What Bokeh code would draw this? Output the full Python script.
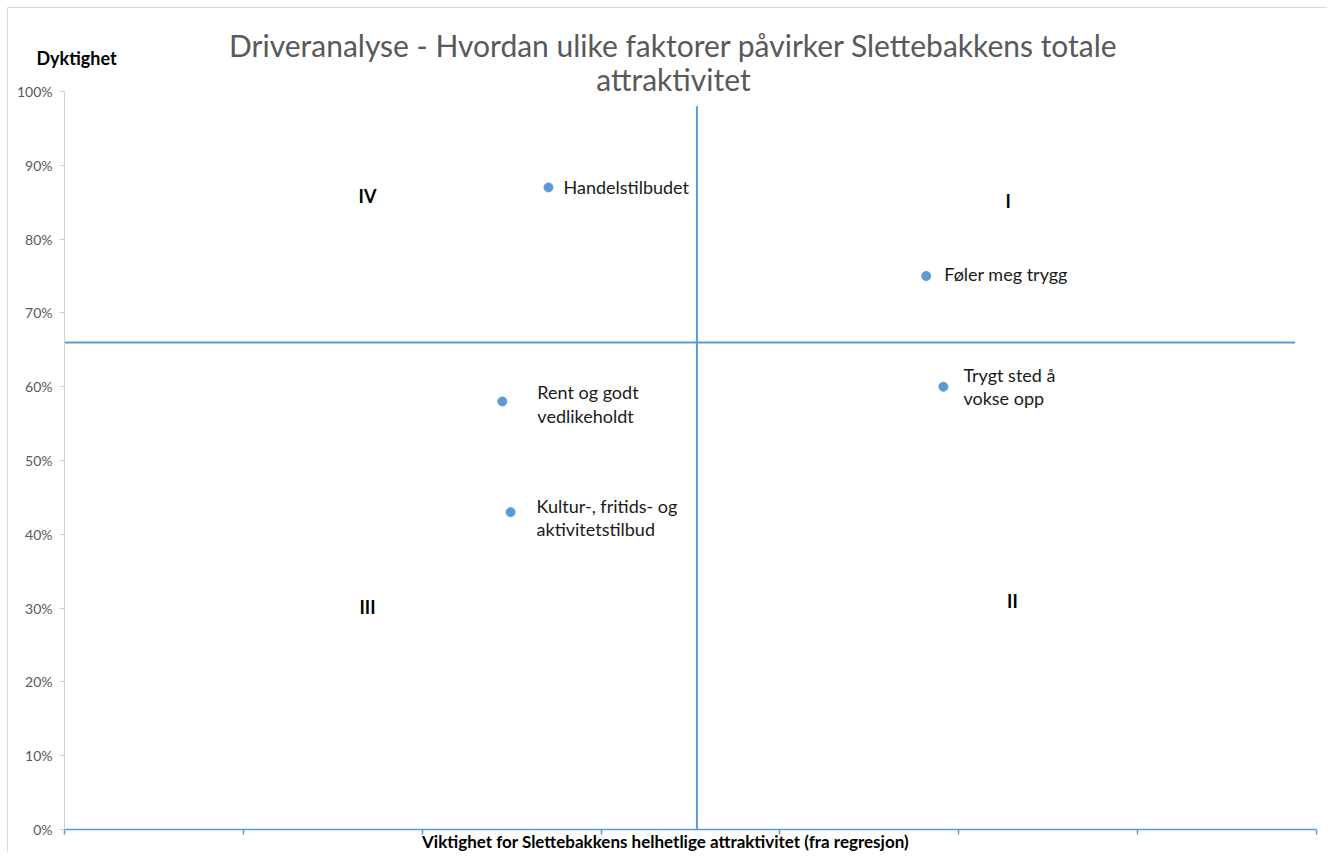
from bokeh.plotting import figure
from bokeh.models import (ColumnDataSource, Label, Range1d, NumeralTickFormatter,
                          FixedTicker, CustomJSTickFormatter)
from bokeh.embed import file_html
from bokeh.resources import INLINE
from bokeh.core.properties import value

# ---------------- data ----------------
factors = ["Handelstilbudet", "Føler meg trygg", "Trygt sted å\nvokse opp",
           "Rent og godt\nvedlikeholdt", "Kultur-, fritids- og\naktivitetstilbud"]
importance = [0.1353, 0.2409, 0.2457, 0.1224, 0.1247]   # x: viktighet (regresjon)
skill = [0.87, 0.75, 0.60, 0.58, 0.43]                   # y: dyktighet

threshold_x = 0.1768   # vertical quadrant divider
threshold_y = 0.66     # horizontal quadrant divider
vline_top = 0.98
hline_end = 0.344

quadrant_names = ["I", "II", "III", "IV"]
quadrant_x = [0.2638, 0.2650, 0.0847, 0.0847]
quadrant_y = [0.851, 0.309, 0.301, 0.859]

x_ticks = [0.0, 0.05, 0.10, 0.15, 0.20, 0.25, 0.30, 0.35]
y_ticks = [0.0, 0.1, 0.2, 0.3, 0.4, 0.5, 0.6, 0.7, 0.8, 0.9, 1.0]
x_axis_max = 0.35
y_axis_max = 1.0

title_text = "Driveranalyse - Hvordan ulike faktorer påvirker Slettebakkens totale\nattraktivitet"
y_title = "Dyktighet"
x_title = "Viktighet for Slettebakkens helhetlige attraktivitet (fra regresjon)"

# ---------------- layout / style ----------------
label_dx = [15, 18, 20, 35, 26]
label_dy = [0, -2, 0, 2.5, 5]

BLUE = "#5B9BD5"
FONT = "Lato"
W, H = 1327, 852
PX_X0, PX_X1 = 64, 1316     # pixel of x=0 and x=x_axis_max
PX_Y0, PX_Y1 = 829, 91      # pixel (from top) of y=0 and y=y_axis_max
BORDER = 7                  # chart-area border pixel

xs = (PX_X1 - PX_X0) / x_axis_max
ys = (PX_Y0 - PX_Y1) / y_axis_max
x_lo = -PX_X0 / xs
x_hi = x_axis_max + (W - PX_X1) / xs
y_lo = -(H - PX_Y0) / ys
y_hi = y_axis_max + PX_Y1 / ys

p = figure(width=W, height=H, output_backend="svg", toolbar_location=None,
           x_range=Range1d(x_lo, x_hi), y_range=Range1d(y_lo, y_hi),
           min_border_left=0, min_border_right=0, min_border_top=0,
           min_border_bottom=0)
p.title.visible = False
p.outline_line_color = None
p.xgrid.visible = False
p.ygrid.visible = False
p.background_fill_color = "white"
p.border_fill_color = "white"

# chart-area border (left and top edges)
bx = x_lo + BORDER / xs
by = y_hi - BORDER / ys
p.segment(x0=[bx, bx], y0=[y_lo, by], x1=[bx, x_hi], y1=[by, by],
          line_color="#D9D9D9", line_width=1)

# axes drawn at data origin, inside the full-canvas frame
p.xaxis.fixed_location = 0
p.xaxis.bounds = (0, x_axis_max)
p.xaxis.ticker = FixedTicker(ticks=x_ticks)
p.xaxis.formatter = CustomJSTickFormatter(code="return ''")
p.xaxis.major_label_text_font_size = "0px"
p.xaxis.major_label_standoff = 0
p.xaxis.axis_line_color = BLUE
p.xaxis.axis_line_width = 1.5
p.xaxis.major_tick_line_color = BLUE
p.xaxis.major_tick_line_width = 1.5
p.xaxis.major_tick_out = 5
p.xaxis.major_tick_in = 0
p.xaxis.minor_tick_line_color = None

p.yaxis.fixed_location = 0
p.yaxis.bounds = (0, y_axis_max)
p.yaxis.ticker = FixedTicker(ticks=y_ticks)
p.yaxis.formatter = NumeralTickFormatter(format="0%")
p.yaxis.axis_line_color = "#D0D0D0"
p.yaxis.major_tick_line_color = "#D0D0D0"
p.yaxis.major_tick_out = 5
p.yaxis.major_tick_in = 0
p.yaxis.minor_tick_line_color = None
p.yaxis.major_label_text_font = FONT
p.yaxis.major_label_text_font_size = "14px"
p.yaxis.major_label_text_color = "#595959"
p.yaxis.major_label_standoff = 7

# quadrant dividers
p.segment(x0=[threshold_x], y0=[0], x1=[threshold_x], y1=[vline_top],
          line_color=BLUE, line_width=2)
p.segment(x0=[0], y0=[threshold_y], x1=[hline_end], y1=[threshold_y],
          line_color=BLUE, line_width=2)

# points
src = ColumnDataSource(dict(x=importance, y=skill, name=factors,
                            dx=label_dx, dy=label_dy))
p.scatter("x", "y", source=src, size=9, fill_color=BLUE, line_color=BLUE)
p.text("x", "y", text="name", source=src, x_offset="dx", y_offset="dy",
       text_font=value(FONT), text_font_size="18px", text_color="#1a1a1a",
       text_align="left", text_baseline="middle", text_line_height=1.05)

# quadrant names
qsrc = ColumnDataSource(dict(x=quadrant_x, y=quadrant_y, t=quadrant_names))
p.text("x", "y", text="t", source=qsrc, text_font=value(FONT),
       text_font_size="18px", text_font_style="bold", text_color="#000000",
       text_align="center", text_baseline="middle")

# titles (screen units; frame covers the whole canvas)
p.add_layout(Label(x=673, y=H - 26, x_units="screen", y_units="screen",
                   text=title_text, text_align="center", text_baseline="top",
                   text_font=FONT, text_font_size="30px", text_color="#595959",
                   text_line_height=0.96))
p.add_layout(Label(x=36, y=H - 57, x_units="screen", y_units="screen",
                   text=y_title, text_align="left", text_baseline="middle",
                   text_font=FONT, text_font_size="18px", text_font_style="bold",
                   text_color="#000000"))
p.add_layout(Label(x=665, y=H - 841, x_units="screen", y_units="screen",
                   text=x_title, text_align="center", text_baseline="middle",
                   text_font=FONT, text_font_size="17px", text_font_style="bold",
                   text_color="#000000"))

open("out.html", "w").write(file_html(p, INLINE))
